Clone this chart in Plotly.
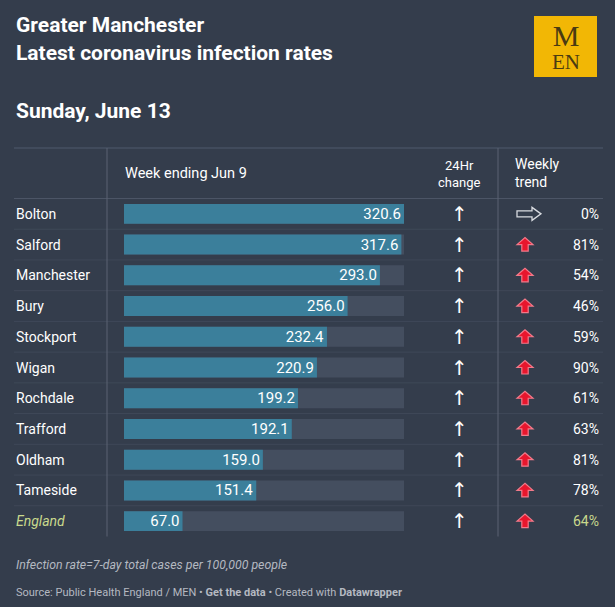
import plotly.graph_objects as go

# data
areas = ["Bolton", "Salford", "Manchester", "Bury", "Stockport", "Wigan",
         "Rochdale", "Trafford", "Oldham", "Tameside", "England"]
rates = [320.6, 317.6, 293.0, 256.0, 232.4, 220.9, 199.2, 192.1, 159.0, 151.4, 67.0]
day_change = ["up"] * 11
weekly_trend = ["flat", "up", "up", "up", "up", "up", "up", "up", "up", "up", "up"]
weekly_pct = [0, 81, 54, 46, 59, 90, 61, 63, 81, 78, 64]

W, H = 615, 607
BG = "#343d4c"
BAR = "#3b7f9b"
TRACK = "#444e5f"
LINE = "#4c5566"
WHITE = "#ffffff"
ENG = "#c9d98c"
RED = "#e8162d"
FONT = "Roboto"

# arrow glyphs, in pixels round their anchor (y up)
UP_ARROW = "M-8,0 L0,7 L8,0 L3.2,0 L3.2,-6.5 L-3.2,-6.5 L-3.2,0 Z"
RIGHT_ARROW = "M-12,3 L3,3 L3,6.5 L12,0 L3,-6.5 L3,-3 L-12,-3 Z"


def px(x):
    return x / W


def py(y):
    return 1 - y / H


# table geometry (pixels from top-left)
row_top, row_bot = 198.5, 536.5
bar_left, bar_right = 124, 404

fig = go.Figure()

# grey track behind each bar
fig.add_trace(go.Bar(
    y=areas, x=[max(rates)] * len(areas), orientation="h",
    marker=dict(color=TRACK, line=dict(width=0)), width=0.65,
    hoverinfo="skip", showlegend=False,
))
fig.add_trace(go.Bar(
    y=areas, x=rates, orientation="h",
    marker=dict(color=BAR, line=dict(width=0)), width=0.65,
    text=[f"{v:.1f}" for v in rates], textposition="inside",
    insidetextanchor="end", textangle=0, constraintext="none",
    textfont=dict(family=FONT, size=15, color=WHITE),
    showlegend=False,
))

fig.update_layout(
    width=W, height=H,
    margin=dict(l=0, r=0, t=0, b=0),
    paper_bgcolor=BG, plot_bgcolor=BG,
    barmode="overlay",
    xaxis=dict(domain=[px(bar_left), px(bar_right)], range=[0, max(rates)],
               visible=False, fixedrange=True),
    yaxis=dict(domain=[py(row_bot), py(row_top)], type="category",
               range=[len(areas) - 0.5, -0.5], visible=False),
    font=dict(family=FONT, color=WHITE),
)

ann = []
shapes = []

# titles
ann.append(dict(text="<b>Greater Manchester</b>", x=px(14), y=py(25)))
ann.append(dict(text="<b>Latest coronavirus infection rates</b>", x=px(14), y=py(53)))
ann.append(dict(text="<b>Sunday, June 13</b>", x=px(14), y=py(110.5)))
for a in ann:
    a.update(xref="paper", yref="paper", xanchor="left", yanchor="middle",
             showarrow=False, font=dict(family=FONT, size=21, color=WHITE))

# logo
shapes.append(dict(type="rect", xref="paper", yref="paper",
                   x0=px(534), x1=px(597), y0=py(77), y1=py(16),
                   fillcolor="#f2b705", line=dict(width=0)))
ann.append(dict(text="<span style='font-size:30px'>M</span><br>"
                     "<span style='font-size:21px'>EN</span>",
                x=px(565.5), y=py(46), xref="paper", yref="paper",
                xanchor="center", yanchor="middle", showarrow=False,
                font=dict(family="Liberation Serif", size=18, color="#4a3b12")))

# header
hdr = dict(xref="paper", yref="paper", showarrow=False, yanchor="middle",
           font=dict(family=FONT, size=14.5, color=WHITE))
ann.append(dict(hdr, text="Week ending Jun 9", x=px(123), y=py(173), xanchor="left"))
ann.append(dict(hdr, text="24Hr<br>change", x=px(459), y=py(174), xanchor="center",
                font=dict(family=FONT, size=13, color=WHITE)))
ann.append(dict(hdr, text="Weekly<br>trend", x=px(513), y=py(173), xanchor="left",
                align="left", font=dict(family=FONT, size=14, color=WHITE)))

# lines
shapes.append(dict(type="line", xref="paper", yref="paper", x0=px(14), x1=px(603),
                   y0=py(148), y1=py(148), line=dict(color="#465062", width=1.5)))
shapes.append(dict(type="line", xref="paper", yref="paper", x0=px(14), x1=px(603),
                   y0=py(row_top), y1=py(row_top), line=dict(color=LINE, width=1)))
for i in range(len(areas) - 1):
    shapes.append(dict(type="line", xref="paper", yref="y", x0=px(14), x1=px(603),
                       y0=i + 0.5, y1=i + 0.5, line=dict(color="#3f4858", width=1)))
for xv in [107, 498]:
    shapes.append(dict(type="line", xref="paper", yref="paper", x0=px(xv), x1=px(xv),
                       y0=py(148), y1=py(row_bot), line=dict(color="#5b6372", width=1)))

# rows
for name, dc, wt, pct in zip(areas, day_change, weekly_trend, weekly_pct):
    eng = name == "England"
    col = ENG if eng else WHITE
    ann.append(dict(text=f"<i>{name}</i>" if eng else name, x=px(14), y=name,
                    xref="paper", yref="y", xanchor="left", yanchor="middle",
                    showarrow=False, font=dict(family=FONT, size=14, color=col)))
    ann.append(dict(text="↑" if dc == "up" else "↓", x=px(459), y=name,
                    xref="paper", yref="y", xanchor="center", yanchor="middle",
                    showarrow=False, font=dict(family="DejaVu Sans", size=20, color=WHITE)))
    if wt == "flat":
        shapes.append(dict(type="path", path=RIGHT_ARROW, xref="paper", yref="y",
                           xsizemode="pixel", ysizemode="pixel",
                           xanchor=px(529), yanchor=name,
                           fillcolor=BG, line=dict(color="#d8dbe0", width=1.3)))
    else:
        shapes.append(dict(type="path", path=UP_ARROW, xref="paper", yref="y",
                           xsizemode="pixel", ysizemode="pixel",
                           xanchor=px(525), yanchor=name,
                           fillcolor=RED, line=dict(color="#f27a8a", width=1.2)))
    ann.append(dict(text=f"{pct}%", x=px(601), y=name, xref="paper", yref="y",
                    xanchor="right", yanchor="middle", showarrow=False,
                    font=dict(family=FONT, size=14, color=col)))

# footer
ann.append(dict(text="<i>Infection rate=7-day total cases per 100,000 people</i>",
                x=px(14), y=py(565), xref="paper", yref="paper", xanchor="left",
                yanchor="middle", showarrow=False,
                font=dict(family=FONT, size=12.3, color="#b4b9c1")))
ann.append(dict(text="Source: Public Health England / MEN • <b>Get the data</b> • "
                     "Created with <b>Datawrapper</b>",
                x=px(14), y=py(592), xref="paper", yref="paper", xanchor="left",
                yanchor="middle", showarrow=False,
                font=dict(family=FONT, size=11, color="#b4b9c1")))

fig.update_layout(annotations=ann, shapes=shapes)

fig.write_html("out.html", config={"displayModeBar": False},
               post_script="document.body.style.margin='0';")
